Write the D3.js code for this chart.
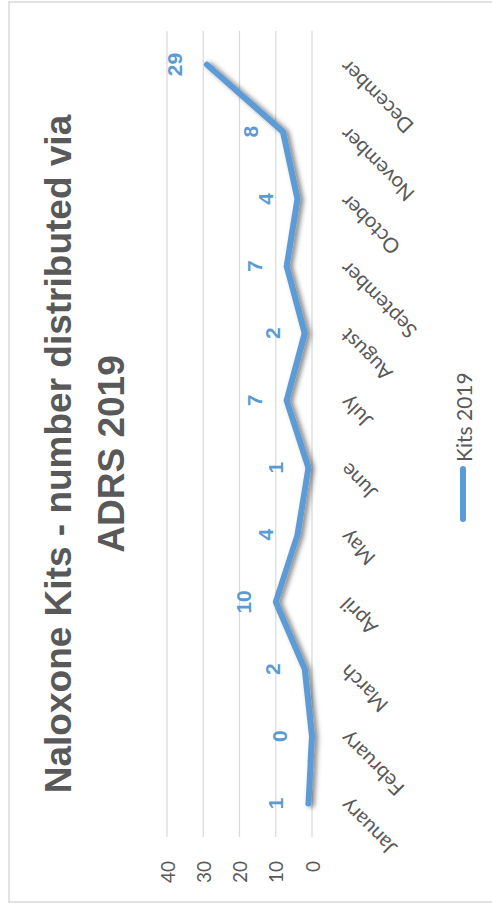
<!DOCTYPE html>
<html>
<head>
<meta charset="utf-8">
<script src="https://cdn.jsdelivr.net/npm/d3@7"></script>
<style>
  html, body { margin: 0; padding: 0; background: #fff; }
  svg { display: block; }
</style>
</head>
<body>
<svg id="chart" width="492" height="908"></svg>
<script>
// ── data ────────────────────────────────────────────────────────────────────
const months = ["January", "February", "March", "April", "May", "June",
                "July", "August", "September", "October", "November", "December"];
const kits2019 = [1, 0, 2, 10, 4, 1, 7, 2, 7, 4, 8, 29];
const valueTicks = [0, 10, 20, 30, 40];
const titleLines = ["Naloxone Kits - number distributed via", "ADRS 2019"];
const seriesName = "Kits 2019";

const BLUE = "#5B9BD5";
const GREY = "#595959";
const GRID = "#d9d9d9";

// The whole chart is drawn as a normal line chart (908 wide, 492 tall)
// and then turned a quarter turn counter-clockwise onto the page.
const W = 908, H = 492;

const svg = d3.select("#chart");

const defs = svg.append("defs");
const shadow = defs.append("filter")
  .attr("id", "shadow")
  .attr("x", "-20%").attr("y", "-20%")
  .attr("width", "140%").attr("height", "140%");
shadow.append("feDropShadow")
  .attr("dx", -1).attr("dy", 3)
  .attr("stdDeviation", 2.5)
  .attr("flood-color", "#000")
  .attr("flood-opacity", 0.5);

const g = svg.append("g")
  .attr("transform", `translate(0,${W}) rotate(-90)`);

// chart area border
g.append("rect")
  .attr("x", 6).attr("y", 9)
  .attr("width", 900).attr("height", 520)
  .attr("fill", "#fff")
  .attr("stroke", GRID)
  .attr("stroke-width", 1.5);

const x = d3.scaleBand().domain(months).range([71, 877]);
const y = d3.scaleLinear().domain([0, 40]).range([312, 167]);
const cx = m => x(m) + x.bandwidth() / 2;

// gridlines
g.append("g").selectAll("line")
  .data(valueTicks).enter().append("line")
  .attr("x1", 71).attr("x2", 877)
  .attr("y1", d => y(d)).attr("y2", d => y(d))
  .attr("stroke", GRID)
  .attr("stroke-width", 1.2);

// value axis labels
g.append("g").selectAll("text")
  .data(valueTicks).enter().append("text")
  .attr("x", 47)
  .attr("y", d => y(d))
  .attr("text-anchor", "end")
  .attr("dominant-baseline", "central")
  .attr("font-family", "Lato, 'Liberation Sans', sans-serif")
  .attr("font-size", 19)
  .attr("fill", GREY)
  .text(d => d);

// month labels, slanted
g.append("g").selectAll("text")
  .data(months).enter().append("text")
  .attr("transform", d => `translate(${cx(d) + 6},${y(0) + 37}) rotate(-45)`)
  .attr("text-anchor", "end")
  .attr("font-family", "Lato, 'Liberation Sans', sans-serif")
  .attr("font-size", 20.5)
  .attr("fill", GREY)
  .text(d => d);

// series line
const line = d3.line()
  .x((d, i) => cx(months[i]))
  .y(d => y(d));

g.append("path")
  .datum(kits2019)
  .attr("d", line)
  .attr("fill", "none")
  .attr("stroke", BLUE)
  .attr("stroke-width", 6)
  .attr("stroke-linejoin", "round")
  .attr("stroke-linecap", "round")
  .attr("filter", "url(#shadow)");

// data labels
g.append("g").selectAll("text")
  .data(kits2019).enter().append("text")
  .attr("x", (d, i) => cx(months[i]))
  .attr("y", d => y(d) - 25)
  .attr("text-anchor", "middle")
  .attr("font-family", "'Liberation Sans', Arial, sans-serif")
  .attr("font-weight", "bold")
  .attr("font-size", 21)
  .attr("fill", BLUE)
  .text(d => d);

// title
g.append("g").selectAll("text")
  .data(titleLines).enter().append("text")
  .attr("x", W / 2)
  .attr("y", (d, i) => 71 + i * 53)
  .attr("text-anchor", "middle")
  .attr("font-family", "'Liberation Sans', Arial, sans-serif")
  .attr("font-weight", "bold")
  .attr("font-size", 37)
  .attr("fill", GREY)
  .text(d => d);

// legend
const legend = g.append("g");
legend.append("line")
  .attr("x1", 389).attr("x2", 439)
  .attr("y1", 463).attr("y2", 463)
  .attr("stroke", BLUE)
  .attr("stroke-width", 6)
  .attr("stroke-linecap", "round");
legend.append("text")
  .attr("x", 446).attr("y", 463)
  .attr("dominant-baseline", "central")
  .attr("font-family", "Lato, 'Liberation Sans', sans-serif")
  .attr("font-size", 21)
  .attr("fill", GREY)
  .text(seriesName);
</script>
</body>
</html>
